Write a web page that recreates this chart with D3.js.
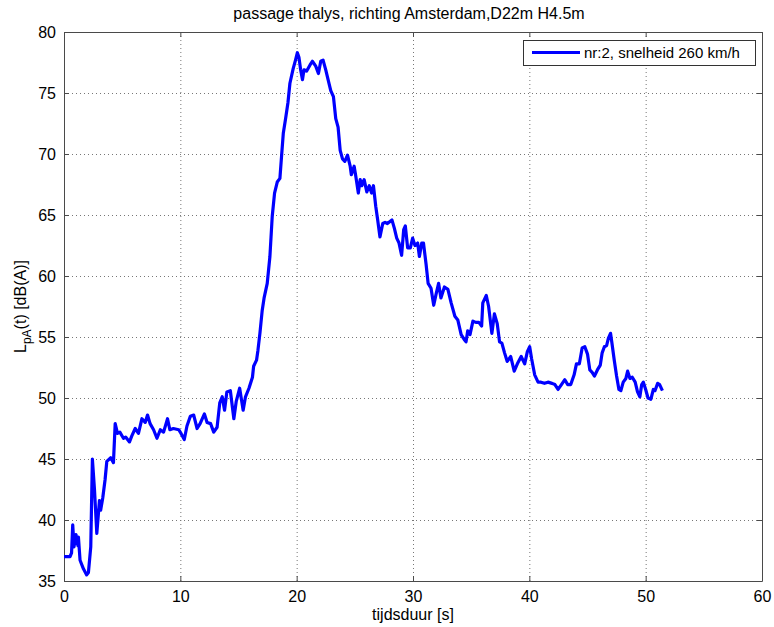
<!DOCTYPE html>
<html><head><meta charset="utf-8">
<script src="https://cdn.jsdelivr.net/npm/d3@7"></script>
<style>body{margin:0;background:#fff}svg{display:block}text{font-family:"Liberation Sans",Arial,sans-serif}</style>
</head><body>
<svg id="c" width="774" height="627"></svg>
<script>
const title = "passage thalys, richting Amsterdam,D22m H4.5m";
const xLabel = "tijdsduur [s]";
const legendLabel = "nr:2, snelheid 260 km/h";
const xTicks = [0,10,20,30,40,50,60];
const yTicks = [35,40,45,50,55,60,65,70,75,80];
const timeS = [0,0.52,0.65,0.75,0.86,1.03,1.2,1.24,1.38,1.67,1.95,2.1,2.3,2.44,2.62,2.82,3.05,3.15,3.33,3.53,3.68,4.02,4.25,4.4,4.6,4.8,5.11,5.3,5.63,5.83,6.12,6.4,6.7,6.98,7.18,7.4,7.7,7.99,8.28,8.56,8.9,9.1,9.4,9.86,10.06,10.34,10.57,10.86,11.15,11.44,11.7,12.07,12.3,12.6,12.87,13.16,13.39,13.6,13.8,14.0,14.3,14.6,14.8,15.1,15.4,15.6,15.9,16.2,16.3,16.55,16.67,16.84,17.04,17.2,17.47,17.7,17.9,18.1,18.33,18.56,18.7,18.85,19.05,19.25,19.42,19.7,19.9,20.06,20.2,20.34,20.5,20.63,20.86,21.15,21.35,21.64,21.87,22.07,22.27,22.5,22.7,22.93,23.16,23.36,23.56,23.74,23.94,24.14,24.37,24.6,24.7,24.94,25.08,25.3,25.46,25.6,25.8,26.03,26.24,26.44,26.6,26.8,26.95,27.16,27.4,27.6,27.8,28.19,28.4,28.6,28.8,29.02,29.2,29.34,29.54,29.77,29.97,30.17,30.4,30.55,30.75,30.9,31.12,31.3,31.55,31.78,31.98,32.2,32.4,32.7,33.0,33.28,33.6,33.85,34.14,34.4,34.56,34.7,34.9,35.15,35.4,35.66,35.9,36.0,36.3,36.5,36.78,37.0,37.24,37.44,37.64,37.87,38.1,38.4,38.7,38.97,39.3,39.6,39.83,40.03,40.2,40.46,40.75,41.0,41.3,41.6,41.95,42.2,42.47,42.76,43.05,43.3,43.56,43.85,44.05,44.3,44.54,44.77,45.0,45.2,45.4,45.6,45.85,46.1,46.26,46.45,46.64,46.8,46.98,47.1,47.3,47.5,47.7,47.87,48.07,48.3,48.45,48.65,48.85,49.1,49.3,49.5,49.66,49.8,50.0,50.2,50.45,50.66,50.8,51.03,51.2,51.44];
const levelDbA = [37.0,37.0,37.3,39.6,37.8,38.8,37.9,38.6,36.7,36.0,35.5,35.7,37.8,45.0,42.5,38.9,41.6,40.8,41.8,43.3,44.8,45.1,44.7,47.9,47.1,47.2,46.7,46.8,46.4,46.9,47.5,47.1,48.3,48.0,48.6,47.9,47.4,46.7,47.4,47.2,48.3,47.4,47.5,47.4,47.1,46.6,47.7,48.5,48.6,47.5,47.9,48.7,48.0,47.9,47.2,47.6,49.6,50.1,49.0,50.5,50.6,48.3,49.7,50.8,49.0,50.1,50.8,51.7,52.6,53.1,53.9,55.3,57.2,58.2,59.4,61.6,64.9,66.8,67.7,68.0,69.8,71.7,72.9,74.2,75.8,77.0,77.7,78.3,77.9,76.9,76.1,76.9,76.8,77.3,77.6,77.2,76.6,77.6,77.7,76.9,76.1,75.2,74.7,72.9,72.2,70.3,69.6,69.4,69.9,69.0,68.3,69.0,68.2,66.8,67.9,67.4,67.9,66.9,67.4,66.8,67.4,65.7,64.7,63.2,64.3,64.4,64.3,64.6,63.9,63.1,62.7,61.7,63.8,64.1,62.3,62.3,63.1,62.5,62.7,61.6,62.7,62.7,61.0,59.4,59.0,57.6,58.5,59.4,58.2,59.1,58.9,57.8,56.7,56.4,55.2,54.8,54.6,55.5,55.2,56.3,56.2,56.2,55.9,57.8,58.4,57.5,55.3,56.9,56.1,54.6,54.5,53.7,53.0,53.4,52.2,52.8,53.4,52.8,53.8,54.2,53.2,51.9,51.3,51.3,51.2,51.3,51.2,51.1,50.7,51.1,51.5,51.1,51.1,51.9,52.8,52.8,54.1,54.2,53.6,52.3,52.1,51.8,52.3,52.7,53.7,54.2,54.3,54.9,55.3,54.5,53.1,51.8,50.7,50.6,51.3,51.6,52.2,51.6,51.7,51.3,50.5,50.1,51.1,51.3,50.7,50.0,49.9,50.7,50.6,51.2,51.1,50.6];

const svg = d3.select("#c");
const L=64,R=762,T=32,B=581;
const x = d3.scaleLinear().domain([0,60]).range([L,R]);
const y = d3.scaleLinear().domain([35,80]).range([B,T]);
const axisColor = "#4a4a4a";

// grid
const g = svg.append("g");
g.selectAll(".gx").data(xTicks.slice(1,-1)).join("line")
 .attr("x1",d=>x(d)+0.5).attr("x2",d=>x(d)+0.5).attr("y1",T).attr("y2",B)
 .attr("stroke","#777").attr("stroke-width",1).attr("stroke-dasharray","1,3");
g.selectAll(".gy").data(yTicks.slice(1,-1)).join("line")
 .attr("y1",d=>Math.round(y(d))+0.5).attr("y2",d=>Math.round(y(d))+0.5).attr("x1",L).attr("x2",R)
 .attr("stroke","#777").attr("stroke-width",1).attr("stroke-dasharray","1,3");

// axes with inward ticks
const xa = svg.append("g").attr("transform",`translate(0,${B})`)
 .call(d3.axisBottom(x).tickValues(xTicks).tickSizeInner(-5).tickSizeOuter(0).tickPadding(10));
const xa2 = svg.append("g").attr("transform",`translate(0,${T})`)
 .call(d3.axisTop(x).tickValues(xTicks).tickSizeInner(-5).tickSizeOuter(0).tickFormat(""));
const ya = svg.append("g").attr("transform",`translate(${L},0)`)
 .call(d3.axisLeft(y).tickValues(yTicks).tickSizeInner(-5).tickSizeOuter(0).tickPadding(8));
const ya2 = svg.append("g").attr("transform",`translate(${R},0)`)
 .call(d3.axisRight(y).tickValues(yTicks).tickSizeInner(-5).tickSizeOuter(0).tickFormat(""));
[xa,xa2,ya,ya2].forEach(a=>{
  a.selectAll("path").attr("stroke",axisColor);
  a.selectAll("line").attr("stroke",axisColor);
  a.selectAll("text").attr("fill","#000").style("font-size","16px").style("font-family","'Liberation Sans',Arial,sans-serif");
});

// data line
const line = d3.line().x((d,i)=>x(timeS[i])).y(d=>y(d));
svg.append("path").datum(levelDbA).attr("d",line)
 .attr("fill","none").attr("stroke","#0000ff").attr("stroke-width",3.2).attr("stroke-linejoin","round");

// title & labels
svg.append("text").attr("x",(L+R)/2-4).attr("y",19).attr("text-anchor","middle")
 .style("font-size","16px").text(title);
svg.append("text").attr("x",(L+R)/2).attr("y",620).attr("text-anchor","middle")
 .style("font-size","16px").text(xLabel);
const yl = svg.append("text").attr("transform",`translate(26,${(T+B)/2}) rotate(-90)`)
 .attr("text-anchor","middle").style("font-size","16px");
yl.append("tspan").text("L");
yl.append("tspan").attr("dy",5).style("font-size","12px").text("pA");
yl.append("tspan").attr("dy",-5).text("(t) [dB(A)]");

// legend
const lg = svg.append("g");
lg.append("rect").attr("x",523.5).attr("y",40.5).attr("width",232).attr("height",25)
 .attr("fill","#fff").attr("stroke","#333").attr("stroke-width",1);
lg.append("line").attr("x1",532).attr("x2",580).attr("y1",52.5).attr("y2",52.5)
 .attr("stroke","#0000ff").attr("stroke-width",3);
lg.append("text").attr("x",584).attr("y",58).style("font-size","15px").text(legendLabel);
</script>
</body></html>
